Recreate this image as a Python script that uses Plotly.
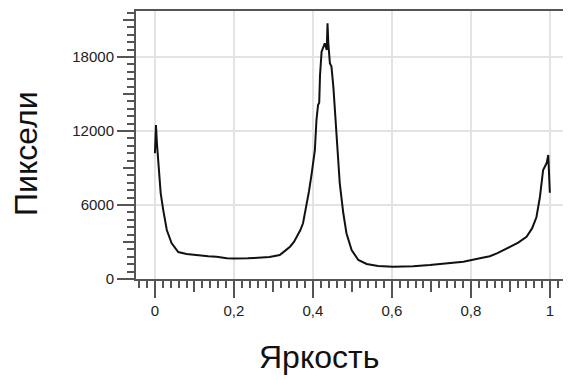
import plotly.graph_objects as go

# Data
brightness = [0, 0.0025, 0.005, 0.008, 0.0145, 0.021, 0.030, 0.042, 0.059, 0.080,
              0.100, 0.114, 0.135, 0.156, 0.182, 0.200, 0.215, 0.235, 0.250, 0.270,
              0.290, 0.300, 0.316, 0.330, 0.342, 0.352, 0.359, 0.368, 0.375, 0.384,
              0.390, 0.397, 0.405, 0.409, 0.411, 0.413, 0.416, 0.418, 0.422, 0.426,
              0.430, 0.433, 0.435, 0.437, 0.439, 0.443, 0.447, 0.452, 0.456, 0.460,
              0.464, 0.468, 0.477, 0.485, 0.498, 0.515, 0.536, 0.565, 0.603, 0.630,
              0.654, 0.696, 0.738, 0.781, 0.823, 0.848, 0.866, 0.899, 0.920, 0.941,
              0.955, 0.966, 0.975, 0.983, 0.988, 0.992, 0.996, 1.0]
pixels = [10200, 12490, 11000, 9650, 6970, 5590, 3970, 2920, 2190, 2030,
          1950, 1890, 1850, 1810, 1680, 1660, 1650, 1680, 1700, 1720,
          1780, 1850, 1950, 2300, 2620, 3000, 3430, 3950, 4520, 6000,
          7100, 8570, 10460, 12890, 13800, 14110, 14300, 16500, 18430, 18700,
          19110, 18800, 18570, 20730, 19130, 17490, 17220, 15500, 13500, 11500,
          9500, 7760, 5330, 3710, 2350, 1540, 1220, 1050, 990, 1000,
          1040, 1130, 1270, 1400, 1680, 1850, 2080, 2620, 2950, 3430,
          4100, 5000, 6670, 8840, 9100, 9400, 10050, 7000]

x_tickvals = [0, 0.2, 0.4, 0.6, 0.8, 1]
x_ticktext = ["0", "0,2", "0,4", "0,6", "0,8", "1"]
x_midvals = [0.1, 0.3, 0.5, 0.7, 0.9]
y_tickvals = [0, 6000, 12000, 18000]
y_ticktext = ["0", "6000", "12000", "18000"]
y_midvals = [3000, 9000, 15000, 21000]

x_title = "Яркость"
y_title = "Пиксели"

XR = [-0.048, 1.046]
YR = [0, 21730]
AX = "#555555"
GRID = "#e3e3e3"
FONT = "Liberation Sans"

fig = go.Figure()
fig.add_trace(go.Scatter(x=brightness, y=pixels, mode="lines",
                         line=dict(color="#111111", width=2),
                         showlegend=False, hoverinfo="skip"))
# empty trace to activate the overlay axes for mid-length ticks
fig.add_trace(go.Scatter(x=[], y=[], xaxis="x2", yaxis="y2", showlegend=False))

# page body has an 8px margin, so the figure is sized to fit the window
fig.update_layout(
    width=563, height=372,
    margin=dict(l=128, r=3, t=3, b=101, autoexpand=False),
    paper_bgcolor="white", plot_bgcolor="white",
    font=dict(family=FONT, color="#222222"),
    xaxis=dict(range=XR, tickvals=x_tickvals, ticktext=x_ticktext, automargin=False,
               ticks="outside", ticklen=17, tickwidth=1.5, tickcolor=AX,
               showline=True, linecolor=AX, linewidth=2, mirror=True,
               showgrid=True, gridcolor=GRID, gridwidth=1.5, zeroline=False,
               tickfont=dict(size=15, family=FONT, color="#222222"),
               minor=dict(dtick=0.02, tick0=0, ticks="outside", ticklen=7,
                          tickwidth=1.5, tickcolor=AX, showgrid=False)),
    yaxis=dict(range=YR, tickvals=y_tickvals, ticktext=y_ticktext, automargin=False,
               ticks="outside", ticklen=17, tickwidth=1.5, tickcolor=AX,
               showline=True, linecolor=AX, linewidth=2, mirror=True,
               showgrid=True, gridcolor=GRID, gridwidth=1.5, zeroline=False,
               tickfont=dict(size=15, family=FONT, color="#222222"),
               minor=dict(dtick=600, tick0=0, ticks="outside", ticklen=7,
                          tickwidth=1.5, tickcolor=AX, showgrid=False)),
    xaxis2=dict(overlaying="x", anchor="y", side="bottom", range=XR, automargin=False,
                tickvals=x_midvals, ticks="outside", ticklen=12, tickwidth=1.5,
                tickcolor=AX, showticklabels=False, showgrid=False,
                showline=False, zeroline=False),
    yaxis2=dict(overlaying="y", anchor="x", side="left", range=YR, automargin=False,
                tickvals=y_midvals, ticks="outside", ticklen=12, tickwidth=1.5,
                tickcolor=AX, showticklabels=False, showgrid=False,
                showline=False, zeroline=False),
    annotations=[
        dict(text=x_title, xref="paper", yref="paper", x=0.424, y=-0.291,
             xanchor="center", yanchor="middle", showarrow=False,
             font=dict(size=32, family=FONT, color="#111111")),
        dict(text=y_title, xref="paper", yref="paper", x=-0.255, y=0.47,
             xanchor="center", yanchor="middle", showarrow=False, textangle=-90,
             font=dict(size=32, family=FONT, color="#111111")),
    ],
)

fig.write_html("out.html")
